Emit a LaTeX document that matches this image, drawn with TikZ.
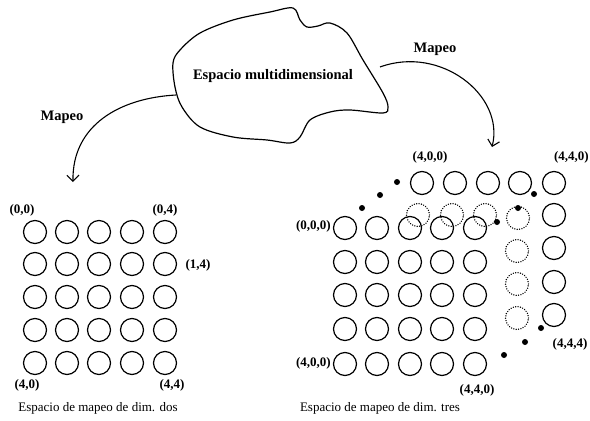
\documentclass[tikz,border=0pt]{standalone}
\usepackage{fontspec}
\setmainfont{Liberation Serif}
\usetikzlibrary{arrows.meta,positioning}
\tikzset{
  cell/.style={draw, circle, line width=1.2pt, minimum size=23pt, inner sep=0pt},
  hidden/.style={cell, dash pattern=on 0.01pt off 2.4pt, line cap=round, line width=1.5pt},
  depth/.style={fill, circle, inner sep=0pt, minimum size=6pt},
  coord/.style={font=\fontsize{13}{14}\selectfont\bfseries, inner sep=0pt},
  title/.style={font=\fontsize{14.5}{16}\selectfont\bfseries},
  caption/.style={font=\fontsize{13}{15}\selectfont},
  arrow/.style={-{Straight Barb[length=6pt,width=12pt]}, line width=1.1pt},
}

\begin{document}
\begin{tikzpicture}[x=1pt,y=-1pt]
\useasboundingbox (0,0) rectangle (590,421);
% espacio de entrada
\draw[line width=1.2pt] plot[smooth cycle, tension=0.55] coordinates {(173,63) (180,50) (200,33) (233,20) (270,12) (293,8) (300,20) (307,27) (318,26) (330,23) (347,33) (363,60) (383,93) (388,107) (383,113) (350,110) (330,112) (310,120) (300,137) (290,143) (267,140) (233,137) (200,127) (182,107) (175,87)};
\node[title] (multi) at (273,76) {Espacio multidimensional};
\coordinate (outL) at (176,95);
\coordinate (outR) at (380,67);
\coordinate (inL) at (73,182);
\coordinate (inR) at (492,147);
\draw[arrow] (outL) .. controls (120,98) and (72,125) .. (inL);
\draw[arrow] (outR) .. controls (440,45) and (505,95) .. (inR);
\node[title] (mapL) at (62,117) {Mapeo};
\node[title] (mapR) at (435,49) {Mapeo};
% dos dimensiones
\foreach \r [count=\i from 0] in {232,264,297,330,363}
  \foreach \c [count=\j from 0] in {35,67,99,132,165}
    \node[cell] (dos-\i-\j) at (\c,\r) {};
\node[coord] (d00) at (22,210) {(0,0)};
\node[coord] (d04) at (165,210) {(0,4)};
\node[coord] (d14) at (198,265) {(1,4)};
\node[coord] (d40) at (27,385) {(4,0)};
\node[coord] (d44) at (172,385) {(4,4)};
\node[caption] (capDos) at (98,408) {Espacio de mapeo de dim. dos};
% tres dimensiones
\foreach \r [count=\i from 0] in {228,262,295,329,364}
  \foreach \c [count=\j from 0] in {345,377,410,442,475}
    \node[cell] (tres-\i-\j) at (\c,\r) {};
\foreach \c [count=\j from 0] in {422,455,488,520,554}
  \node[cell] (fondo-\j) at (\c,183) {};
\foreach \r [count=\i from 1] in {215,248,282,315}
  \node[cell] (lado-\i) at (554,\r) {};
\foreach \p [count=\k] in {(418,215),(452,215),(485,215),(518,218),(517,251),(517,284),(517,318)}
  \node[hidden] (medio-\k) at \p {};
\foreach \p [count=\k] in {(397,182),(380,195),(362,208),(534,194),(518,208),(497,222),(541,328),(525,342),(504,355)}
  \node[depth] (punto-\k) at \p {};
\node[coord] (t400a) at (430,157) {(4,0,0)};
\node[coord, anchor=east] (t440a) at (589,157) {(4,4,0)};
\node[coord, anchor=east] (t000) at (331,226) {(0,0,0)};
\node[coord, anchor=east] (t400b) at (331,363) {(4,0,0)};
\node[coord] (t440b) at (477,390) {(4,4,0)};
\node[coord] (t444) at (570,344) {(4,4,4)};
\node[caption] (capTres) at (380,408) {Espacio de mapeo de dim. tres};
\end{tikzpicture}
\end{document}
